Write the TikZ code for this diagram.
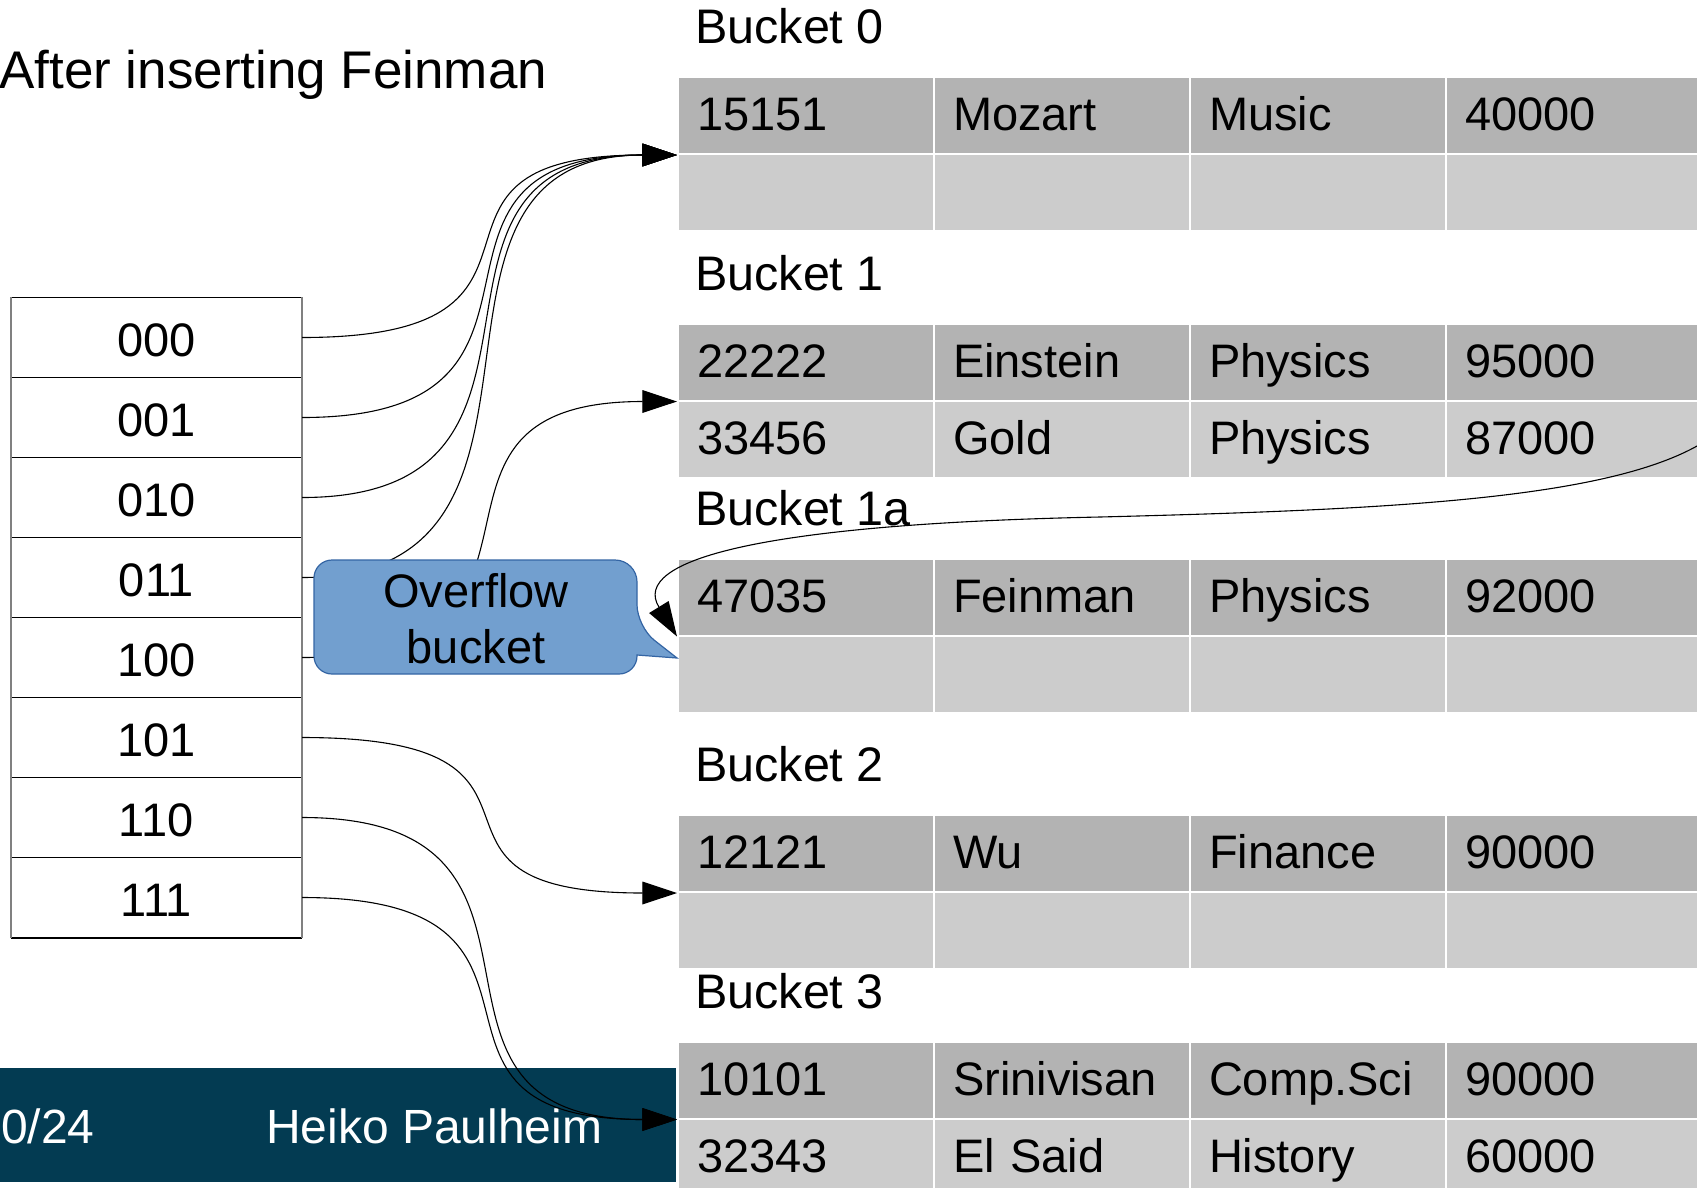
\documentclass[tikz,border=0pt]{standalone}
\usepackage{fontspec}
\setmainfont{Liberation Sans}
\usetikzlibrary{arrows.meta}
\definecolor{darkrow}{HTML}{B3B3B3}
\definecolor{lightrow}{HTML}{CCCCCC}
\definecolor{footerc}{RGB}{3,59,82}
\definecolor{callfill}{HTML}{729FCF}
\definecolor{calledge}{HTML}{3465A4}
\newcommand\cellfont{\fontsize{47}{56}\selectfont}
\newcommand\labfont{\fontsize{48.5}{58}\selectfont}
\newcommand\titlefont{\fontsize{53}{62}\selectfont}
\newcommand\rowcells[7]{%
 \node[cell,#3] (#1c1) at (677,#2) {#4};
 \node[cell,#3] (#1c2) at (933,#2) {#5};
 \node[cell,#3] (#1c3) at (1189,#2) {#6};
 \node[cell,#3] (#1c4) at (1445,#2) {#7};
}
\tikzset{
 cell/.style={anchor=north west, minimum width=256, minimum height=77, text width=218,
   inner xsep=19, inner ysep=0, align=left, text height=30, text depth=0,
   draw=white, line width=2, font=\cellfont},
 dark/.style={fill=darkrow},
 light/.style={fill=lightrow},
 lab/.style={anchor=base west, inner sep=0, font=\labfont},
 idx/.style={anchor=north west, minimum width=291, minimum height=80, inner sep=0,
   text height=38, text depth=0, font=\cellfont},
 conn/.style={line width=1.1, -{Triangle[length=34.6pt,width=22.7pt]}},
 foottext/.style={inner sep=0, text=white, font=\fontsize{48}{58}\selectfont},
}
\begin{document}
\begin{tikzpicture}[x=1pt,y=-1pt]
\useasboundingbox (0,0) rectangle (1697,1187);
\clip (0,0) rectangle (1697,1187);
\fill[white] (0,0) rectangle (1697,1187);

% title
\node[anchor=base west, inner sep=0, font=\titlefont] (title) at (-1,88.3) {After inserting Feinman};

% bucket labels
\node[lab] (lb0) at (695,43.3) {Bucket 0};
\node[lab] (lb1) at (695,290) {Bucket 1};
\node[lab] (lb1a) at (695,525) {Bucket 1a};
\node[lab] (lb2) at (695,781.4) {Bucket 2};
\node[lab] (lb3) at (695,1008.4) {Bucket 3};

% footer
\fill[footerc] (0,1067.7) rectangle (676,1182);
\node[foottext, anchor=base west] (page) at (1,1143.3) {0/24};
\node[foottext, anchor=base west] (author) at (266,1143.3) {Heiko Paulheim};

% bucket tables
\rowcells{bZr1}{76}{dark}{15151}{Mozart}{Music}{40000}
\rowcells{bZr2}{153}{light}{}{}{}{}
\rowcells{bOr1}{322.5}{dark}{22222}{Einstein}{Physics}{95000}
\rowcells{bOr2}{399.5}{light}{33456}{Gold}{Physics}{87000}
\rowcells{bAr1}{557.5}{dark}{47035}{Feinman}{Physics}{92000}
\rowcells{bAr2}{634.5}{light}{}{}{}{}
\rowcells{bTr1}{814}{dark}{12121}{Wu}{Finance}{90000}
\rowcells{bTr2}{891}{light}{}{}{}{}
\rowcells{bHr1}{1040.5}{dark}{10101}{Srinivisan}{Comp.Sci}{90000}
\rowcells{bHr2}{1117.5}{light}{32343}{El Said}{History}{60000}

% index table
\node[idx] (i0) at (10.7,297.3) {000};
\node[idx] (i1) at (10.7,377.3) {001};
\node[idx] (i2) at (10.7,457.3) {010};
\node[idx] (i3) at (10.7,537.3) {011};
\node[idx] (i4) at (10.7,617.3) {100};
\node[idx] (i5) at (10.7,697.3) {101};
\node[idx] (i6) at (10.7,777.3) {110};
\node[idx] (i7) at (10.7,857.3) {111};
\foreach \n in {i0,i1,i2,i3,i4,i5,i6,i7}{
  \draw[line width=1.6, black] (\n.north west) -- (\n.north east);
}
\draw[line width=1.6, black] (i7.south west) -- (i7.south east);
\draw[line width=2, gray] (i0.north west) -- (i7.south west);
\draw[line width=2, gray] (i0.north east) -- (i7.south east);

% connectors
\foreach \n in {i0,i1,i2,i3}{
  \draw[conn] (\n.east) .. controls +(300,0) and +(-300,0) .. (bZr1c1.south west);
}
\draw[conn] (i4.east) .. controls +(300,0) and +(-300,0) .. (bOr1c1.south west);
\draw[conn] (i5.east) .. controls +(300,0) and +(-300,0) .. (bTr1c1.south west);
\draw[conn] (i6.east) .. controls +(300,0) and +(-300,0) .. (bHr1c1.south west);
\draw[conn] (i7.east) .. controls +(300,0) and +(-300,0) .. (bHr1c1.south west);
\coordinate (bOout) at (1745,399.5);
\draw[conn] (bOout) .. controls (1700,495) and (1450,508) .. (1100,517)
   .. controls (760,524) and (630,560) .. (bAr1c1.south west);

% callout
\draw[fill=callfill, draw=calledge, line width=1.2]
  (476,560) [rounded corners=22] -- (637,560) -- (637,626.7) [sharp corners] -- (677,658)
  -- (637,655) [rounded corners=18] -- (637,674) -- (314,674) -- (314,560) -- cycle;
\node[anchor=base, inner sep=0, font=\cellfont] (ovf1) at (476,607) {Overflow};
\node[anchor=base, inner sep=0, font=\cellfont] (ovf2) at (476,663) {bucket};
\end{tikzpicture}
\end{document}
